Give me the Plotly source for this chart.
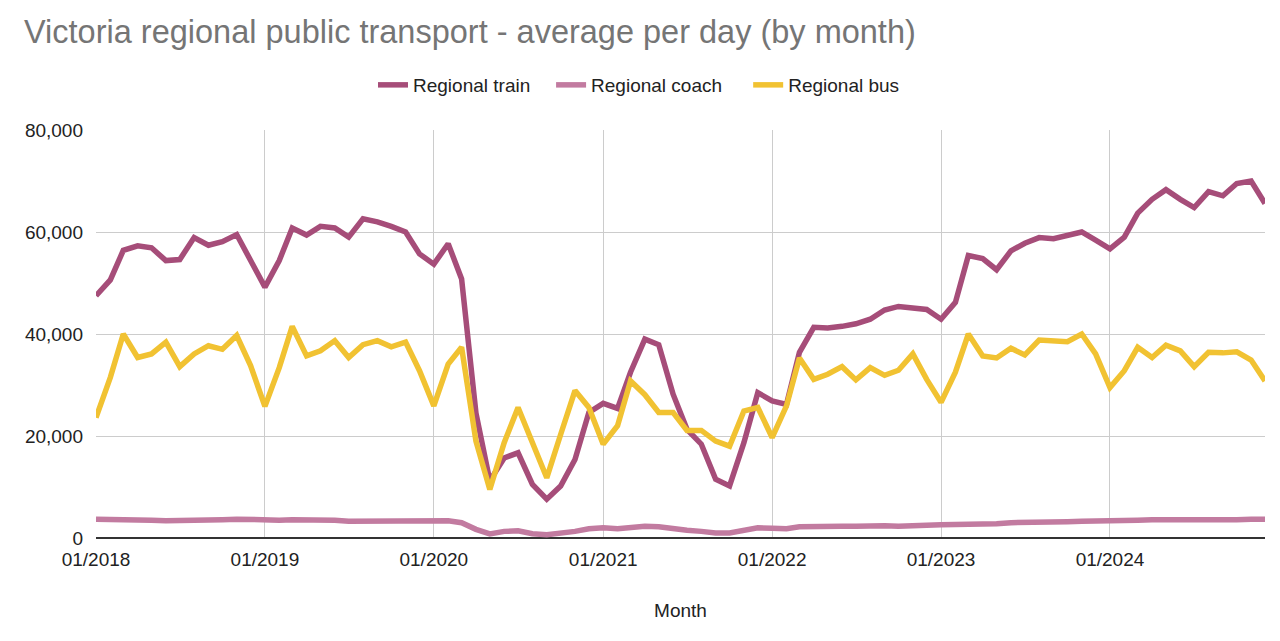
import pandas as pd
import plotly.graph_objects as go

months = pd.date_range("2018-01-01", "2024-12-01", freq="MS")

regional_train = [
    47500, 50600, 56400, 57300, 56900, 54400, 54600, 58900, 57400, 58100, 59500, 54300,
    49200, 54400, 60800, 59400, 61100, 60800, 59000, 62600, 62000, 61100, 60000, 55700,
    53700, 57700, 50800, 24500, 11200, 15700, 16700, 10500, 7600, 10200, 15400, 24600,
    26400, 25400, 32500, 39000, 37900, 28200, 21300, 18400, 11500, 10200, 18700, 28500,
    26900, 26200, 36400, 41300, 41200, 41500, 42000, 42900, 44700, 45400, 45100, 44800,
    42900, 46200, 55400, 54800, 52600, 56300, 57800, 58900, 58700, 59300, 60000, 58400,
    56700, 59000, 63700, 66400, 68300, 66400, 64800, 67900, 67100, 69500, 70000, 65600,
]

regional_coach = [
    3700, 3700, 3700, 3600, 3500, 3400, 3400, 3500, 3500, 3600, 3700, 3600,
    3500, 3500, 3600, 3600, 3600, 3500, 3300, 3300, 3400, 3400, 3500, 3500,
    3400, 3400, 3000, 1700, 800, 1300, 1400, 850, 650, 850, 1300, 1800,
    2000, 1800, 2100, 2300, 2200, 1800, 1500, 1300, 1000, 1000, 1400, 2000,
    1900, 1800, 2200, 2300, 2300, 2300, 2300, 2400, 2400, 2300, 2300, 2500,
    2600, 2600, 2700, 2800, 2800, 3000, 3000, 3100, 3100, 3200, 3300, 3300,
    3500, 3500, 3500, 3600, 3600, 3500, 3400, 3400, 3400, 3600, 3700, 3700,
]

regional_bus = [
    23600, 31500, 40000, 35400, 36100, 38400, 33600, 36100, 37700, 37000, 39700, 33800,
    25800, 33400, 41500, 35700, 36700, 38700, 35400, 37900, 38700, 37500, 38400, 32800,
    25900, 34100, 37400, 19000, 9500, 18700, 25600, 18400, 11800, 20300, 28900, 25600,
    18400, 22000, 30800, 28100, 24600, 24600, 21100, 21100, 19000, 18000, 24900, 25600,
    19700, 25900, 35300, 31100, 32100, 33600, 31000, 33400, 31900, 32900, 36100, 31100,
    26600, 32500, 40000, 35700, 35300, 37200, 35900, 38800, 38700, 38500, 40000, 36100,
    29500, 32800, 37400, 35400, 37800, 36700, 33600, 36400, 36300, 36500, 34900, 30800,
]

series_names = ["Regional train", "Regional coach", "Regional bus"]
series_values = [regional_train, regional_coach, regional_bus]
series_colors = ["#A64D79", "#C27BA0", "#F1C232"]
legend_pads = ["\u00a0" * 3, "\u00a0" * 4, ""]

fig = go.Figure()
for name, vals, color, pad in zip(series_names, series_values, series_colors, legend_pads):
    fig.add_trace(go.Scatter(
        x=months, y=vals, name=name + pad, mode="lines",
        line=dict(color=color, width=5.5),
    ))

font_family = "Liberation Sans, Arial, sans-serif"

fig.update_layout(
    width=1280, height=641,
    paper_bgcolor="white", plot_bgcolor="white",
    margin=dict(l=96, r=15, t=130, b=103),
    font=dict(family=font_family, size=19, color="#222222"),
    title=dict(
        text="Victoria regional public transport - average per day (by month)",
        x=24 / 1280, xanchor="left", xref="container",
        y=1 - 32 / 641, yanchor="middle", yref="container",
        font=dict(family=font_family, size=32.5, color="#757575"),
    ),
    legend=dict(
        orientation="h", xref="container", x=373 / 1280, xanchor="left",
        yref="container", y=1 - 85 / 641, yanchor="middle",
        font=dict(size=19, color="#222222"),
    ),
    showlegend=True,
)

fig.update_xaxes(
    range=[months[0], months[-1]],
    tickformat="%m/%Y", dtick="M12", tick0="2018-01-01",
    showgrid=True, gridcolor="#CCCCCC", gridwidth=1,
    showline=False, ticks="",
    tickfont=dict(size=19, color="#222222"),
    title=dict(text="Month", font=dict(size=19, color="#222222"), standoff=34),
    zeroline=False, automargin=False, ticklabelstandoff=8,
)
fig.update_yaxes(
    range=[0, 80000], dtick=20000, tickformat=",",
    showgrid=True, gridcolor="#CCCCCC", gridwidth=1,
    zeroline=True, zerolinecolor="#333333", zerolinewidth=2,
    ticks="", tickfont=dict(size=19, color="#222222"),
    ticklabelstandoff=12, automargin=False,
)

fig.write_html(
    "out.html",
    config={"displayModeBar": False},
    post_script="document.body.style.margin='0';",
)
